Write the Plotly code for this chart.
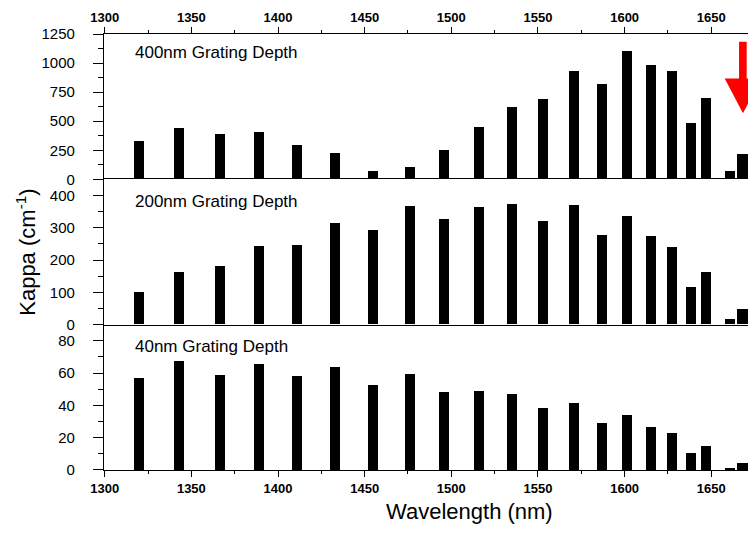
import plotly.graph_objects as go

wavelength = [1320, 1343, 1366.5, 1389, 1411, 1433, 1455, 1476, 1496, 1516, 1535,
              1553, 1571, 1587, 1601.5, 1615, 1627.5, 1638.5, 1647, 1661, 1668]
kappa_400 = [328, 440, 388, 405, 293, 224, 69, 103, 250, 448, 620,
             690, 931, 816, 1103, 983, 928, 483, 701, 69, 221]
kappa_200 = [101, 163, 182, 244, 247, 315, 293, 365, 325, 362, 374,
             321, 371, 278, 335, 273, 240, 117, 163, 16, 47]
kappa_40 = [56.9, 67.5, 58.8, 65.6, 58.2, 63.7, 52.6, 59.4, 48.3, 48.9, 47,
            38.4, 41.5, 29.5, 34.5, 27, 22.9, 11, 14.9, 1.5, 4.3]

panel_labels = ["400nm Grating Depth", "200nm Grating Depth", "40nm Grating Depth"]
x_range = [1299.6, 1675.8]
bar_w = 5.8
FONT = "Liberation Sans, Arial, sans-serif"

fig = go.Figure()
fig.add_trace(go.Bar(x=wavelength, y=kappa_40, width=bar_w, marker_color="black",
                     marker_line_width=0, xaxis="x", yaxis="y", showlegend=False))
fig.add_trace(go.Bar(x=wavelength, y=kappa_200, width=bar_w, marker_color="black",
                     marker_line_width=0, xaxis="x2", yaxis="y2", showlegend=False))
fig.add_trace(go.Bar(x=wavelength, y=kappa_400, width=bar_w, marker_color="black",
                     marker_line_width=0, xaxis="x3", yaxis="y3", showlegend=False))

xt = dict(family=FONT, size=13, color="black", weight="bold")
yt = dict(family=FONT, size=15, color="black")
third = 1 / 3

common_y = dict(showline=True, linecolor="black", linewidth=1.3, ticks="outside",
                ticklen=10, tickwidth=1.3, tickcolor="black", showgrid=False,
                zeroline=False, tickfont=yt, ticklabelstandoff=15)

# page body has an 8px margin: figure sized/offset so the plot area sits at x 104-756, y 34-470
fig.update_layout(
    width=748, height=525,
    margin=dict(l=96, r=0, t=26, b=63),
    paper_bgcolor="white", plot_bgcolor="white",
    bargap=0,
    xaxis=dict(domain=[0, 1], anchor="y", range=x_range, showline=True,
               linecolor="black", linewidth=1.3, ticks="outside", ticklen=6,
               tickwidth=1.3, tickcolor="black", dtick=50, tick0=1300,
               minor=dict(dtick=25, ticks="outside", ticklen=3, tickcolor="black", tickwidth=1.3),
               tickfont=xt, showgrid=False, zeroline=False),
    xaxis2=dict(domain=[0, 1], anchor="y2", matches="x", range=x_range, showline=True,
                mirror=True, linecolor="black", linewidth=1.3, showticklabels=False,
                ticks="", showgrid=False, zeroline=False),
    xaxis3=dict(domain=[0, 1], anchor="y3", matches="x", range=x_range, side="top",
                showline=True, linecolor="black", linewidth=1.3, ticks="outside",
                ticklen=6, tickwidth=1.3, tickcolor="black", dtick=50, tick0=1300,
                minor=dict(dtick=25, ticks="outside", ticklen=3, tickcolor="black", tickwidth=1.3),
                tickfont=xt, showgrid=False, zeroline=False),
    yaxis=dict(domain=[0, third], anchor="x", range=[0, 90], dtick=20,
               minor=dict(dtick=10, ticks="outside", ticklen=5, tickcolor="black", tickwidth=1.3),
               **common_y),
    yaxis2=dict(domain=[third, 2 * third], anchor="x2", range=[0, 450], dtick=100,
                minor=dict(dtick=50, ticks="outside", ticklen=5, tickcolor="black", tickwidth=1.3),
                **common_y),
    yaxis3=dict(domain=[2 * third, 1], anchor="x3", range=[0, 1250], dtick=250,
                minor=dict(dtick=125, ticks="outside", ticklen=5, tickcolor="black", tickwidth=1.3),
                **common_y),
)

label_y = [0.958, 0.616, 0.283]
for txt, yy in zip(panel_labels, label_y):
    fig.add_annotation(text=txt, xref="paper", yref="paper", x=0.045, y=yy,
                       xanchor="left", yanchor="middle", showarrow=False,
                       font=dict(family=FONT, size=17, color="black"))

fig.add_annotation(text="Wavelength (nm)", xref="paper", yref="paper", x=0.56, y=-0.095,
                   xanchor="center", yanchor="middle", showarrow=False,
                   font=dict(family=FONT, size=22, color="black"))
fig.add_annotation(text="Kappa (cm<sup>-1</sup>)", xref="paper", yref="paper", x=-0.12, y=0.5,
                   xanchor="center", yanchor="middle", showarrow=False, textangle=-90,
                   font=dict(family=FONT, size=22, color="black"))

# red arrow marker
fig.add_shape(type="path", xref="paper", yref="paper",
              path="M 0.974 0.982 L 0.9857 0.982 L 0.9857 0.898 L 1.008 0.898 "
                   "L 0.980 0.818 L 0.952 0.898 L 0.974 0.898 Z",
              fillcolor="#ff0000", line=dict(width=0), layer="above")

fig.write_html("out.html")
